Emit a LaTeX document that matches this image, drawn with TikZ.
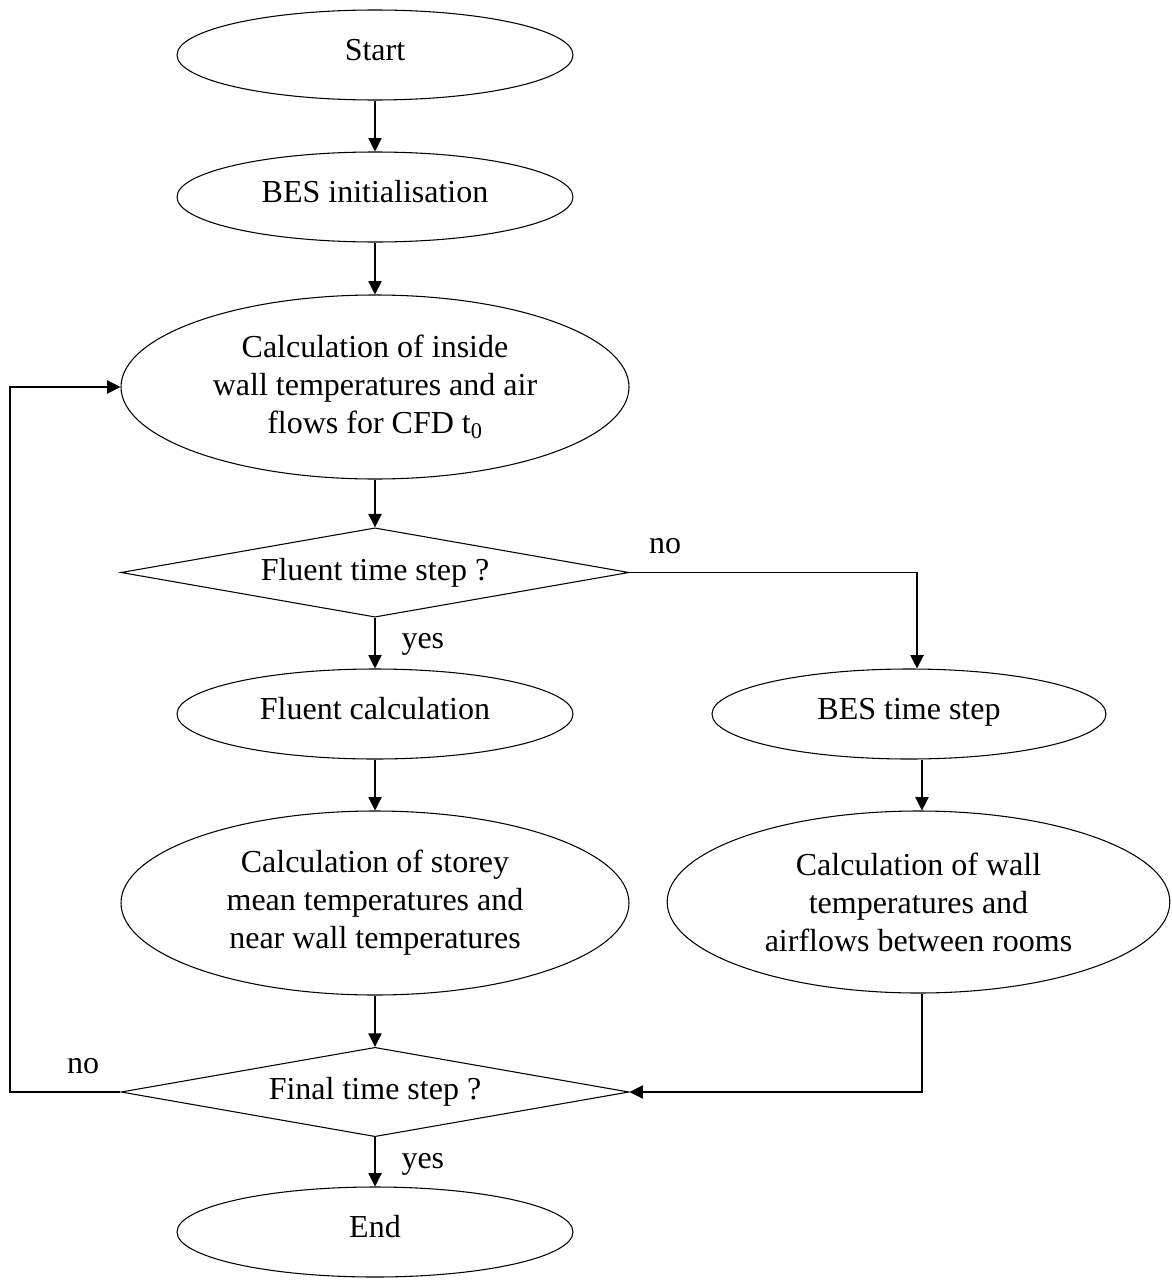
\documentclass[tikz,border=0pt]{standalone}
\usepackage{fontspec}
\setmainfont{Liberation Serif}
\usetikzlibrary{shapes.geometric,arrows.meta}
\begin{document}
\begin{tikzpicture}[x=0.75pt,y=-0.75pt,
  every node/.style={font=\fontsize{24}{28.5}\selectfont},
  base/.style={draw, line width=0.8pt, inner sep=0pt, align=center},
  smallell/.style={base, ellipse, minimum width=297pt, minimum height=67.5pt, text height=16pt, text depth=7.7pt},
  bigell/.style={base, ellipse, minimum width=381pt, minimum height=138pt},
  decis/.style={base, diamond, aspect=5.7, minimum width=381pt, minimum height=67pt},
  arr/.style={line width=0.8pt, -{Triangle[length=10pt,width=10pt]}},
  lab/.style={inner sep=0pt, anchor=base west}]
\useasboundingbox (0,0) rectangle (1171,1281);

\node[smallell] (start) at (375,55) {Start};
\node[smallell] (init) at (375,197) {BES initialisation};
\node[bigell] (c1) at (375,387) {Calculation of inside\\wall temperatures and air\\flows for CFD t\textsubscript{0}};
\node[decis] (d1) at (375,572.5) {Fluent time step ?};
\node[smallell] (fc) at (375,714) {Fluent calculation};
\node[bigell] (c2) at (375,903) {Calculation of storey\\mean temperatures and\\near wall temperatures};
\node[decis] (d2) at (375,1092) {Final time step ?};
\node[smallell] (end) at (375,1232) {End};
\node[smallell, minimum width=295.5pt] (bts) at (909,714) {BES time step};
\node[bigell, minimum width=377pt, minimum height=136.5pt] (cw) at (918.5,902) {Calculation of wall\\temperatures and\\airflows between rooms};
\coordinate (lp) at (10,1092);

\draw[arr] (start) -- (init);
\draw[arr] (init) -- (c1);
\draw[arr] (c1) -- (d1);
\draw[arr] (d1) -- (fc) node[lab] at ([xshift=19.5pt,yshift=-23.3pt]d1.south) {yes};
\draw[arr] (fc) -- (c2);
\draw[arr] (c2) -- (d2);
\draw[arr] (d2) -- (end) node[lab] at ([xshift=19.5pt,yshift=-23.6pt]d2.south) {yes};
\draw[arr] (d1.east) -| ([xshift=6pt]bts.north) node[lab] at ([xshift=14.25pt,yshift=14.6pt]d1.east) {no};
\draw[arr] ([xshift=2.6pt]bts.south -| cw.north) -- ([xshift=2.6pt]cw.north);
\draw[arr] ([xshift=2.6pt]cw.south) |- (d2.east);
\draw[arr] (d2.west) -- (lp) |- (c1.west) node[lab] at ([xshift=-40.5pt,yshift=14.25pt]d2.west) {no};
\end{tikzpicture}
\end{document}
